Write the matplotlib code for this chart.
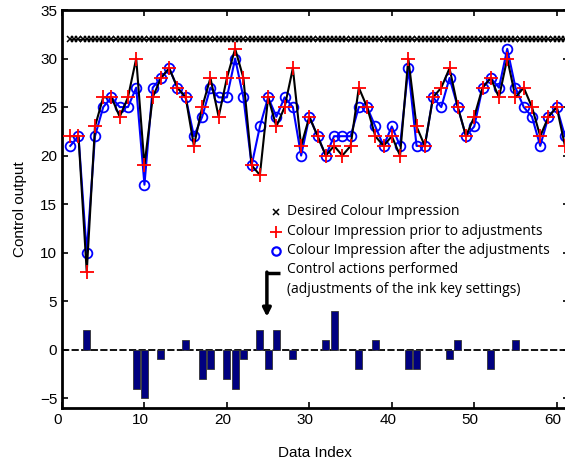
import matplotlib
matplotlib.use('Agg')
import matplotlib.pyplot as plt
import matplotlib.transforms as mtransforms
import numpy as np

# data
idx = list(range(1, 62))
prior = [22, 22, 8, 23, 26, 26, 24, 26, 30, 19, 26, 28, 29, 27, 26, 21, 25, 28, 24, 28,
         31, 28, 19, 18, 26, 23, 25, 29, 21, 24, 22, 20, 21, 20, 21, 27, 25, 22, 21, 22,
         20, 30, 23, 21, 26, 27, 29, 25, 22, 24, 27, 28, 26, 30, 26, 27, 25, 22, 24, 25, 21]
after = [21, 22, 10, 22, 25, 26, 25, 25, 27, 17, 27, 28, 29, 27, 26, 22, 24, 27, 26, 26,
         30, 26, 19, 23, 26, 24, 26, 25, 20, 24, 22, 20, 22, 22, 22, 25, 25, 23, 21, 23,
         21, 29, 21, 21, 26, 25, 28, 25, 22, 23, 27, 28, 27, 31, 27, 25, 24, 21, 24, 25, 22]
desired_value = 32
act_idx = [3, 9, 10, 12, 15, 17, 18, 20, 21, 22, 24, 25, 26, 28, 32, 33, 36, 38, 42, 43, 47, 48, 52, 55]
act_val = [2, -4, -5, -1, 1, -3, -2, -3, -4, -1, 2, -2, 2, -1, 1, 4, -2, 1, -2, -2, -1, 1, -2, 1]

desired_x = np.arange(1, 61.5, 0.5)

plt.rcParams['font.family'] = 'Liberation Sans'
plt.rcParams['font.size'] = 11

fig = plt.figure(figsize=(5.65, 4.63), dpi=100)
# the right spine sits just past the image edge, as in the reference crop
ax = fig.add_axes([62/565, 1-408/463, 506.5/565, 398/463])

ax.axhline(0, color='black', lw=1.3, dashes=(4, 1.3), zorder=1)
ax.bar(act_idx, act_val, 0.85, color='#000080', edgecolor='#333333', linewidth=0.6, zorder=2)

ax.plot(desired_x, [desired_value]*len(desired_x), color='black', lw=1, marker='x',
        ms=4.5, mew=1.1, zorder=3)
ax.plot(idx, after, color='blue', lw=1.5, marker='o', ms=7, mfc='none', mew=1.3, zorder=4, clip_on=False)
ax.plot(idx, prior, color='black', lw=1.5, zorder=5, clip_on=False)
ax.plot(idx, prior, ls='none', color='red', marker='+', ms=10, mew=1.3, zorder=6, clip_on=False)

ax.set_xlim(0, 61.43)
ax.set_ylim(-6, 35)
ax.set_xticks(np.arange(0, 61, 10))
ax.set_yticks(np.arange(-5, 36, 5))
ax.tick_params(direction='in', top=True, right=True, length=4, width=1.2, labelsize=11)
for s in ax.spines.values():
    s.set_linewidth(2)
ax.set_xlabel('Data Index', fontsize=11, labelpad=14)
ax.set_ylabel('Control output', fontsize=11, labelpad=9)

# nudge x tick labels a bit to the left, like the reference
shift = mtransforms.ScaledTranslation(-4/100, 0, fig.dpi_scale_trans)
for lab in ax.get_xticklabels():
    lab.set_transform(lab.get_transform() + shift)

# hand-made legend
lx, sx = 0.444, 0.422
ly = [0.4925, 0.443, 0.395, 0.347, 0.297]
lfont = dict(family='Open Sans', fontsize=10, va='center', transform=ax.transAxes)
ax.text(lx, ly[0], 'Desired Colour Impression', **lfont)
ax.text(lx, ly[1], 'Colour Impression prior to adjustments', **lfont)
ax.text(lx, ly[2], 'Colour Impression after the adjustments', **lfont)
ax.text(lx, ly[3], 'Control actions performed', **lfont)
ax.text(lx, ly[4], '(adjustments of the ink key settings)', **lfont)
ax.plot([sx], [ly[0]], marker='x', color='black', ms=5, mew=1.1, transform=ax.transAxes)
ax.plot([sx], [ly[1]], marker='+', color='red', ms=9, mew=1.3, transform=ax.transAxes)
ax.plot([sx], [ly[2]], marker='o', color='blue', mfc='none', ms=6, mew=1.6, transform=ax.transAxes)

ax.plot([24.85, 26.4], [7.9, 7.9], color='black', lw=2.5, solid_capstyle='butt')
ax.annotate('', xy=(24.85, 3.4), xytext=(24.85, 8.0),
            arrowprops=dict(arrowstyle='-|>', lw=2.5, color='black', mutation_scale=12,
                            shrinkA=0, shrinkB=0))

fig.savefig('out.png', dpi=100)
